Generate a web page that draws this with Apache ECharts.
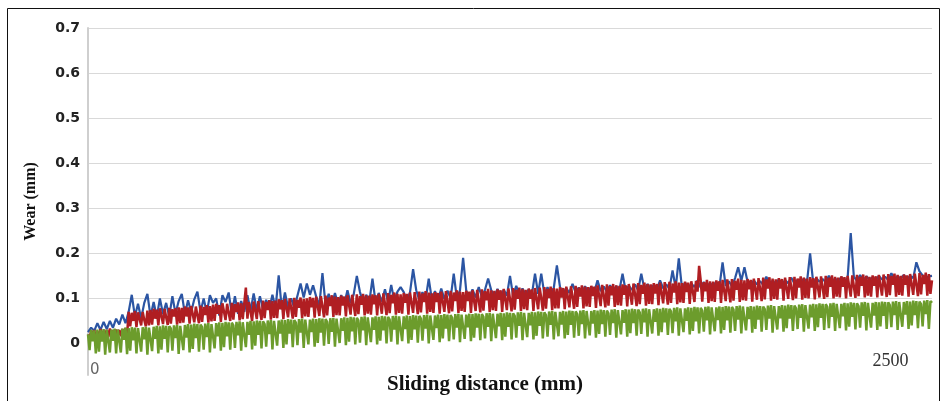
<!DOCTYPE html>
<html>
<head>
<meta charset="utf-8">
<script src="https://cdn.jsdelivr.net/npm/echarts@6/dist/echarts.min.js"></script>
<style>
  html, body { margin: 0; padding: 0; background: #fff; }
  #chart { width: 941px; height: 401px; }
</style>
</head>
<body>
<div id="chart"></div>
<script>
// Sampling steps along the sliding distance (mm)
const BLUE_STEP_MM = 10;
const RG_STEP_MM = 5;

// Tick labels
const yTicks = [0, 0.1, 0.2, 0.3, 0.4, 0.5, 0.6, 0.7];
const xTicks = [0, 2500];

// Wear (mm), one value every BLUE_STEP_MM
const blueWear = [
  0.025, 0.035, 0.028, 0.045, 0.03, 0.048, 0.032, 0.05, 0.035, 0.055,
  0.042, 0.064, 0.045, 0.07, 0.108, 0.06, 0.088, 0.055, 0.09, 0.11,
  0.06, 0.092, 0.058, 0.1, 0.065, 0.09, 0.06, 0.105, 0.066, 0.094,
  0.11, 0.065, 0.096, 0.07, 0.098, 0.115, 0.07, 0.1, 0.068, 0.107,
  0.09, 0.1, 0.062, 0.107, 0.092, 0.113, 0.065, 0.105, 0.066, 0.094,
  0.07, 0.107, 0.072, 0.111, 0.074, 0.105, 0.075, 0.097, 0.076, 0.108,
  0.078, 0.151, 0.076, 0.113, 0.08, 0.1, 0.079, 0.106, 0.133, 0.102,
  0.133, 0.108, 0.129, 0.104, 0.084, 0.156, 0.085, 0.11, 0.086, 0.112,
  0.087, 0.107, 0.088, 0.118, 0.089, 0.109, 0.15, 0.114, 0.09, 0.108,
  0.092, 0.144, 0.091, 0.112, 0.093, 0.12, 0.092, 0.13, 0.094, 0.115,
  0.125, 0.114, 0.095, 0.113, 0.165, 0.118, 0.096, 0.114, 0.097, 0.144,
  0.098, 0.116, 0.097, 0.122, 0.099, 0.117, 0.1, 0.155, 0.1, 0.118,
  0.19, 0.117, 0.101, 0.12, 0.102, 0.125, 0.103, 0.119, 0.144, 0.118,
  0.104, 0.121, 0.105, 0.119, 0.106, 0.15, 0.105, 0.128, 0.107, 0.122,
  0.108, 0.12, 0.109, 0.155, 0.11, 0.155, 0.109, 0.125, 0.11, 0.123,
  0.173, 0.125, 0.111, 0.123, 0.112, 0.132, 0.113, 0.124, 0.112, 0.127,
  0.114, 0.126, 0.115, 0.14, 0.116, 0.126, 0.115, 0.129, 0.117, 0.127,
  0.118, 0.155, 0.117, 0.128, 0.119, 0.131, 0.118, 0.155, 0.12, 0.132,
  0.121, 0.13, 0.12, 0.14, 0.122, 0.131, 0.121, 0.162, 0.123, 0.189,
  0.124, 0.135, 0.123, 0.133, 0.125, 0.14, 0.124, 0.136, 0.126, 0.134,
  0.127, 0.137, 0.126, 0.18, 0.128, 0.138, 0.127, 0.145, 0.169, 0.139,
  0.169, 0.137, 0.13, 0.14, 0.131, 0.138, 0.13, 0.148, 0.132, 0.139,
  0.133, 0.142, 0.132, 0.14, 0.134, 0.146, 0.133, 0.141, 0.135, 0.144,
  0.136, 0.2, 0.135, 0.145, 0.137, 0.143, 0.136, 0.15, 0.138, 0.144,
  0.139, 0.147, 0.138, 0.145, 0.245, 0.148, 0.139, 0.152, 0.14, 0.149,
  0.141, 0.147, 0.14, 0.15, 0.142, 0.148, 0.141, 0.156, 0.143, 0.149,
  0.144, 0.152, 0.143, 0.15, 0.145, 0.18, 0.16, 0.151, 0.146, 0.149, 0.15
];

// Wear (mm), one value every RG_STEP_MM
const redWear = [
  0.02, 0.012, 0.028, 0.015, 0.03, 0.01, 0.026, 0.018, 0.032, 0.012, 0.028, 0.02, 0.03, 0.014, 0.033, 0.016, 0.029, 0.012, 0.031, 0.018,
  0.03, 0.016, 0.032, 0.02, 0.034, 0.018, 0.07, 0.038, 0.068, 0.05, 0.072, 0.036, 0.069, 0.071, 0.04, 0.07, 0.052, 0.038, 0.073, 0.04,
  0.074, 0.042, 0.077, 0.055, 0.075, 0.04, 0.078, 0.076, 0.043, 0.077, 0.058, 0.041, 0.079, 0.044, 0.076, 0.06, 0.078, 0.042, 0.08, 0.045,
  0.079, 0.046, 0.082, 0.06, 0.08, 0.044, 0.083, 0.081, 0.047, 0.082, 0.062, 0.045, 0.084, 0.048, 0.081, 0.063, 0.085, 0.046, 0.083, 0.049,
  0.086, 0.05, 0.088, 0.066, 0.085, 0.048, 0.089, 0.087, 0.052, 0.088, 0.068, 0.05, 0.09, 0.053, 0.087, 0.07, 0.091, 0.051, 0.089, 0.054,
  0.09, 0.124, 0.055, 0.092, 0.07, 0.05, 0.093, 0.091, 0.054, 0.094, 0.072, 0.052, 0.095, 0.056, 0.092, 0.074, 0.096, 0.053, 0.094, 0.057,
  0.095, 0.056, 0.098, 0.076, 0.096, 0.054, 0.099, 0.097, 0.058, 0.1, 0.078, 0.055, 0.101, 0.059, 0.097, 0.079, 0.102, 0.056, 0.099, 0.06,
  0.1, 0.059, 0.103, 0.08, 0.101, 0.057, 0.104, 0.102, 0.061, 0.105, 0.082, 0.058, 0.106, 0.062, 0.102, 0.083, 0.107, 0.059, 0.104, 0.063,
  0.103, 0.062, 0.106, 0.084, 0.104, 0.06, 0.107, 0.105, 0.064, 0.108, 0.085, 0.061, 0.109, 0.065, 0.105, 0.086, 0.11, 0.062, 0.107, 0.066,
  0.106, 0.064, 0.109, 0.087, 0.107, 0.062, 0.11, 0.108, 0.066, 0.111, 0.088, 0.063, 0.112, 0.067, 0.108, 0.089, 0.113, 0.064, 0.11, 0.068,
  0.109, 0.066, 0.112, 0.09, 0.11, 0.064, 0.113, 0.111, 0.068, 0.114, 0.091, 0.065, 0.115, 0.069, 0.111, 0.092, 0.116, 0.066, 0.113, 0.07,
  0.111, 0.068, 0.114, 0.092, 0.112, 0.066, 0.115, 0.113, 0.07, 0.116, 0.093, 0.067, 0.117, 0.071, 0.113, 0.094, 0.118, 0.068, 0.115, 0.072,
  0.114, 0.07, 0.117, 0.094, 0.115, 0.068, 0.118, 0.116, 0.072, 0.119, 0.095, 0.069, 0.12, 0.073, 0.116, 0.096, 0.121, 0.07, 0.118, 0.074,
  0.117, 0.072, 0.12, 0.097, 0.118, 0.07, 0.121, 0.119, 0.074, 0.122, 0.098, 0.071, 0.123, 0.075, 0.119, 0.099, 0.124, 0.072, 0.121, 0.076,
  0.119, 0.074, 0.122, 0.099, 0.12, 0.072, 0.123, 0.121, 0.076, 0.124, 0.1, 0.073, 0.125, 0.077, 0.121, 0.101, 0.126, 0.074, 0.123, 0.078,
  0.122, 0.078, 0.125, 0.102, 0.123, 0.076, 0.126, 0.124, 0.08, 0.127, 0.103, 0.077, 0.128, 0.081, 0.124, 0.104, 0.129, 0.078, 0.126, 0.082,
  0.125, 0.081, 0.128, 0.105, 0.126, 0.079, 0.129, 0.127, 0.083, 0.13, 0.106, 0.08, 0.131, 0.084, 0.127, 0.107, 0.132, 0.081, 0.129, 0.085,
  0.128, 0.084, 0.131, 0.108, 0.129, 0.082, 0.132, 0.13, 0.086, 0.133, 0.109, 0.083, 0.134, 0.087, 0.13, 0.11, 0.135, 0.084, 0.132, 0.088,
  0.131, 0.087, 0.134, 0.111, 0.132, 0.085, 0.135, 0.133, 0.089, 0.136, 0.112, 0.086, 0.137, 0.09, 0.133, 0.113, 0.138, 0.087, 0.135, 0.091,
  0.134, 0.09, 0.137, 0.114, 0.135, 0.088, 0.138, 0.136, 0.092, 0.139, 0.115, 0.172, 0.14, 0.093, 0.136, 0.116, 0.141, 0.09, 0.138, 0.094,
  0.137, 0.092, 0.14, 0.117, 0.138, 0.09, 0.141, 0.139, 0.094, 0.142, 0.118, 0.091, 0.143, 0.095, 0.139, 0.119, 0.144, 0.092, 0.141, 0.096,
  0.14, 0.095, 0.143, 0.12, 0.141, 0.093, 0.144, 0.142, 0.097, 0.145, 0.121, 0.094, 0.146, 0.098, 0.142, 0.122, 0.147, 0.095, 0.144, 0.099,
  0.142, 0.097, 0.145, 0.122, 0.143, 0.095, 0.146, 0.144, 0.099, 0.147, 0.123, 0.096, 0.148, 0.1, 0.144, 0.124, 0.149, 0.097, 0.146, 0.101,
  0.144, 0.1, 0.147, 0.124, 0.145, 0.098, 0.148, 0.146, 0.102, 0.149, 0.125, 0.099, 0.15, 0.103, 0.146, 0.126, 0.151, 0.1, 0.148, 0.104,
  0.146, 0.102, 0.149, 0.126, 0.147, 0.1, 0.15, 0.148, 0.104, 0.151, 0.127, 0.101, 0.152, 0.105, 0.148, 0.128, 0.153, 0.102, 0.15, 0.106,
  0.148, 0.104, 0.151, 0.128, 0.149, 0.102, 0.152, 0.15, 0.106, 0.153, 0.129, 0.103, 0.154, 0.107, 0.15, 0.13, 0.155, 0.104, 0.152, 0.108,
  0.15, 0.106, 0.153, 0.13, 0.151, 0.104, 0.154, 0.152, 0.108, 0.155, 0.131, 0.105, 0.156, 0.109, 0.152, 0.132, 0.157, 0.106, 0.154, 0.11, 0.14
];

const greenWear = [
  0.02, -0.015, 0.03, 0.005, 0.029, -0.022, 0.031, -0.018, 0.03, 0.004, 0.032, -0.025, 0.03, 0.026, -0.02, 0.031, 0.006, 0.033, -0.022, 0.031,
  0.034, -0.02, 0.033, 0.008, 0.035, -0.024, 0.034, -0.016, 0.036, 0.007, 0.035, -0.022, 0.034, 0.03, -0.018, 0.036, 0.009, 0.037, -0.025, 0.035,
  0.038, -0.017, 0.037, 0.01, 0.039, -0.022, 0.038, -0.014, 0.04, 0.01, 0.039, -0.02, 0.038, 0.033, -0.016, 0.04, 0.012, 0.041, -0.023, 0.039,
  0.042, -0.015, 0.041, 0.013, 0.043, -0.02, 0.042, -0.012, 0.044, 0.012, 0.043, -0.018, 0.042, 0.036, -0.014, 0.044, 0.014, 0.045, -0.02, 0.043,
  0.046, -0.011, 0.045, 0.016, 0.047, -0.016, 0.046, -0.008, 0.048, 0.016, 0.047, -0.014, 0.046, 0.04, -0.01, 0.048, 0.018, 0.049, -0.016, 0.047,
  0.049, -0.008, 0.048, 0.019, 0.05, -0.013, 0.049, -0.005, 0.051, 0.019, 0.05, -0.011, 0.049, 0.043, -0.007, 0.051, 0.021, 0.052, -0.013, 0.05,
  0.052, -0.005, 0.051, 0.022, 0.053, -0.01, 0.052, -0.002, 0.054, 0.022, 0.053, -0.008, 0.052, 0.046, -0.004, 0.054, 0.024, 0.055, -0.01, 0.053,
  0.054, -0.002, 0.053, 0.025, 0.055, -0.007, 0.054, 0.001, 0.056, 0.024, 0.055, -0.005, 0.054, 0.048, -0.001, 0.056, 0.026, 0.057, -0.007, 0.055,
  0.057, 0.001, 0.056, 0.028, 0.058, -0.004, 0.057, 0.004, 0.059, 0.027, 0.058, -0.002, 0.057, 0.051, 0.002, 0.059, 0.029, 0.06, -0.004, 0.058,
  0.059, 0.003, 0.058, 0.03, 0.06, -0.002, 0.059, 0.006, 0.061, 0.029, 0.06, 0.0, 0.059, 0.053, 0.004, 0.061, 0.031, 0.062, -0.002, 0.06,
  0.061, 0.005, 0.06, 0.032, 0.062, 0.0, 0.061, 0.008, 0.063, 0.031, 0.062, 0.002, 0.061, 0.055, 0.006, 0.063, 0.033, 0.064, 0.0, 0.062,
  0.063, 0.008, 0.062, 0.034, 0.064, 0.003, 0.063, 0.011, 0.065, 0.033, 0.064, 0.005, 0.063, 0.057, 0.009, 0.065, 0.035, 0.066, 0.003, 0.064,
  0.065, 0.01, 0.064, 0.036, 0.066, 0.005, 0.065, 0.013, 0.067, 0.035, 0.066, 0.007, 0.065, 0.059, 0.011, 0.067, 0.037, 0.068, 0.005, 0.066,
  0.067, 0.012, 0.066, 0.038, 0.068, 0.007, 0.067, 0.015, 0.069, 0.037, 0.068, 0.009, 0.067, 0.061, 0.013, 0.069, 0.039, 0.07, 0.007, 0.068,
  0.069, 0.014, 0.068, 0.04, 0.07, 0.009, 0.069, 0.017, 0.071, 0.039, 0.07, 0.011, 0.069, 0.063, 0.015, 0.071, 0.041, 0.072, 0.009, 0.07,
  0.071, 0.016, 0.07, 0.042, 0.072, 0.011, 0.071, 0.019, 0.073, 0.041, 0.072, 0.013, 0.071, 0.065, 0.017, 0.073, 0.043, 0.074, 0.011, 0.072,
  0.073, 0.018, 0.072, 0.044, 0.074, 0.013, 0.073, 0.021, 0.075, 0.043, 0.074, 0.015, 0.073, 0.067, 0.019, 0.075, 0.045, 0.076, 0.013, 0.074,
  0.075, 0.02, 0.074, 0.046, 0.076, 0.015, 0.075, 0.023, 0.077, 0.045, 0.076, 0.017, 0.075, 0.069, 0.021, 0.077, 0.047, 0.078, 0.015, 0.076,
  0.077, 0.022, 0.076, 0.048, 0.078, 0.017, 0.077, 0.025, 0.079, 0.047, 0.078, 0.019, 0.077, 0.071, 0.023, 0.079, 0.049, 0.08, 0.017, 0.078,
  0.079, 0.025, 0.078, 0.05, 0.08, 0.02, 0.079, 0.028, 0.081, 0.049, 0.08, 0.022, 0.079, 0.073, 0.026, 0.081, 0.051, 0.082, 0.02, 0.08,
  0.081, 0.027, 0.08, 0.052, 0.082, 0.022, 0.081, 0.03, 0.083, 0.051, 0.082, 0.024, 0.081, 0.075, 0.028, 0.083, 0.053, 0.084, 0.022, 0.082,
  0.082, 0.029, 0.081, 0.054, 0.083, 0.024, 0.082, 0.032, 0.084, 0.053, 0.083, 0.026, 0.082, 0.076, 0.03, 0.084, 0.055, 0.085, 0.024, 0.083,
  0.084, 0.031, 0.083, 0.056, 0.085, 0.026, 0.084, 0.034, 0.086, 0.055, 0.085, 0.028, 0.084, 0.078, 0.032, 0.086, 0.057, 0.087, 0.026, 0.085,
  0.087, 0.033, 0.086, 0.058, 0.088, 0.028, 0.087, 0.036, 0.089, 0.057, 0.088, 0.03, 0.087, 0.081, 0.034, 0.089, 0.059, 0.09, 0.028, 0.088,
  0.089, 0.034, 0.088, 0.06, 0.09, 0.029, 0.089, 0.037, 0.091, 0.059, 0.09, 0.031, 0.089, 0.083, 0.035, 0.091, 0.061, 0.092, 0.029, 0.09,
  0.091, 0.035, 0.09, 0.062, 0.092, 0.03, 0.091, 0.038, 0.093, 0.061, 0.092, 0.032, 0.091, 0.085, 0.036, 0.093, 0.063, 0.094, 0.03, 0.092,
  0.093, 0.037, 0.092, 0.064, 0.094, 0.032, 0.093, 0.04, 0.095, 0.063, 0.094, 0.034, 0.093, 0.087, 0.038, 0.095, 0.065, 0.096, 0.032, 0.094, 0.09
];

const pair = (arr, step) => arr.map((v, i) => [i * step, v]);

const chart = echarts.init(document.getElementById('chart'), null, { renderer: 'canvas' });

const option = {
  animation: false,
  backgroundColor: '#ffffff',
  grid: { left: 88, right: 9, top: 28, bottom: 26, containLabel: false, outerBoundsMode: 'none' },
  graphic: [{
    type: 'rect',
    silent: true,
    z: 100,
    shape: { x: 7.5, y: 8.5, width: 932, height: 400 },
    style: { fill: 'none', stroke: '#111', lineWidth: 1 }
  }],
  xAxis: {
    type: 'value',
    min: 0,
    max: 2700,
    name: 'Sliding distance (mm)',
    nameLocation: 'middle',
    nameGap: 10,
    nameMoveOverlap: false,
    nameTextStyle: {
      fontFamily: 'Liberation Serif', fontWeight: 'bold', fontSize: 21,
      color: '#111', padding: [0, 50, 0, 0], verticalAlign: 'middle'
    },
    axisLine: { show: false },
    axisTick: { show: false },
    splitLine: { show: false },
    axisLabel: {
      customValues: xTicks,
      inside: true,
      margin: -3,
      align: 'left',
      formatter: v => v === 0 ? '{a|' + v + '}' : '{b|' + v + '}',
      rich: {
        a: { fontFamily: 'DejaVu Sans', fontSize: 15, color: '#666', padding: [0, 0, 0, 2] },
        b: { fontFamily: 'Liberation Serif', fontSize: 18, color: '#333', padding: [0, 0, 8, 3] }
      }
    }
  },
  yAxis: {
    type: 'value',
    min: -0.07,
    max: 0.7,
    name: 'Wear (mm)',
    nameLocation: 'middle',
    nameGap: 49,
    nameMoveOverlap: false,
    nameTextStyle: { fontFamily: 'Liberation Serif', fontWeight: 'bold', fontSize: 16, color: '#111' },
    axisLine: { show: true, lineStyle: { color: '#cfcfcf', width: 2 } },
    axisTick: { show: false, customValues: yTicks },
    splitLine: { show: true, showMinLine: false, lineStyle: { color: '#d9d9d9', width: 1 } },
    axisLabel: {
      customValues: yTicks,
      margin: 8,
      fontFamily: 'DejaVu Sans',
      fontWeight: 'bold',
      fontSize: 14,
      color: '#222',
      formatter: v => v === 0 ? '0' : v.toFixed(1)
    }
  },
  series: [
    { name: 'Blue', type: 'line', data: pair(blueWear, BLUE_STEP_MM), showSymbol: false, symbol: 'none',
      lineStyle: { color: '#2B55A3', width: 2.2 }, z: 2 },
    { name: 'Red', type: 'line', data: pair(redWear, RG_STEP_MM), showSymbol: false, symbol: 'none',
      lineStyle: { color: '#B01E22', width: 2.5 }, z: 3 },
    { name: 'Green', type: 'line', data: pair(greenWear, RG_STEP_MM), showSymbol: false, symbol: 'none',
      lineStyle: { color: '#6C9C2C', width: 2.5 }, z: 4 }
  ]
};

chart.setOption(option);
</script>
</body>
</html>
